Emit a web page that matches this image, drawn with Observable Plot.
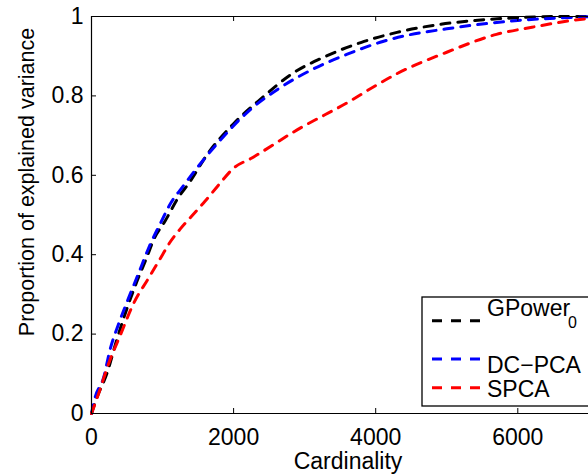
<!DOCTYPE html>
<html><head><meta charset="utf-8">
<script src="https://cdn.jsdelivr.net/npm/d3@7"></script>
<script src="https://cdn.jsdelivr.net/npm/@observablehq/plot@0.6"></script>
<style>
html,body{margin:0;padding:0;background:#fff;overflow:hidden;width:588px;height:475px}
#wrap{position:relative;width:588px;height:475px;overflow:hidden;font-family:"Liberation Sans",Arial,Helvetica,sans-serif}
#legend{position:absolute;left:421px;top:296px}
</style></head><body><div id="wrap"></div><script>
const seriesNames = ["GPower", "DC\u2212PCA", "SPCA"];
const seriesSub = ["0", "", ""];
const seriesColors = ["#000000", "#0000ff", "#ff0000"];

const gpowerX = [0, 75, 215, 355, 500, 640, 780, 870, 1040, 1225, 1366, 1650, 2000, 2400, 2800, 3300, 3800, 4300, 4900, 5400, 6000, 6500, 7000];
const gpowerY = [0, 0.04, 0.10, 0.185, 0.265, 0.333, 0.394, 0.436, 0.486, 0.545, 0.579, 0.658, 0.73, 0.795, 0.853, 0.90, 0.935, 0.96, 0.98, 0.99, 0.997, 1.0, 1.0];

const dcpcaX = [0, 50, 170, 260, 380, 520, 660, 800, 1000, 1100, 1300, 1500, 1800, 2200, 2650, 3100, 3600, 4100, 4400, 5000, 5500, 6000, 6800, 7100];
const dcpcaY = [0, 0.04, 0.09, 0.16, 0.225, 0.29, 0.352, 0.415, 0.49, 0.525, 0.575, 0.622, 0.686, 0.76, 0.82, 0.866, 0.905, 0.937, 0.951, 0.969, 0.981, 0.99, 0.998, 1.0];

const spcaX = [0, 100, 250, 400, 600, 800, 1000, 1100, 1250, 1450, 1600, 1800, 2000, 2250, 2900, 3650, 4000, 4300, 5000, 5700, 6200, 6950, 7100];
const spcaY = [0, 0.05, 0.13, 0.195, 0.28, 0.34, 0.40, 0.43, 0.465, 0.505, 0.535, 0.578, 0.618, 0.643, 0.715, 0.788, 0.826, 0.856, 0.91, 0.955, 0.973, 0.994, 0.996];

const xTicks = [0, 2000, 4000, 6000];
const yTicks = [0, 0.2, 0.4, 0.6, 0.8, 1];
const xLabel = "Cardinality";
const yLabel = "Proportion of explained variance";

const seriesXs = [gpowerX, dcpcaX, spcaX];
const seriesYs = [gpowerY, dcpcaY, spcaY];
const rows = [];
seriesNames.forEach((name, s) => {
  seriesXs[s].forEach((x, i) => rows.push({series: name, x, y: seriesYs[s][i]}));
});

const font = '"Liberation Sans", Arial, Helvetica, sans-serif';

const chart = Plot.plot({
  width: 588,
  height: 475,
  marginLeft: 91,
  marginRight: 0,
  marginTop: 16,
  marginBottom: 62,
  style: {fontFamily: font, fontSize: "23px", background: "#fff", color: "#000", overflow: "hidden"},
  x: {domain: [0, 6995]},
  y: {domain: [0, 1]},
  color: {domain: seriesNames, range: seriesColors},
  marks: [
    ...seriesNames.map(name => Plot.line(rows.filter(d => d.series === name), {
      x: "x", y: "y", stroke: "series", strokeWidth: 3, strokeDasharray: "9,8", curve: "monotone-x"
    })),
    Plot.ruleY([0, 1], {stroke: "#000", strokeWidth: 1.2}),
    Plot.ruleX([0], {stroke: "#000", strokeWidth: 1.2}),
    Plot.ruleX(xTicks, {x: d => d, y1: 0, y2: 0, insetTop: -5, stroke: "#000", strokeWidth: 1}),
    Plot.ruleX(xTicks, {x: d => d, y1: 1, y2: 1, insetBottom: -5, stroke: "#000", strokeWidth: 1}),
    Plot.ruleY(yTicks, {y: d => d, x1: 0, x2: 0, insetRight: -5, stroke: "#000", strokeWidth: 1}),
    Plot.axisX({ticks: xTicks, tickSize: 0, tickPadding: 15, tickFormat: d => String(d), label: null, fontSize: 23}),
    Plot.axisY({ticks: yTicks, tickSize: 0, tickPadding: 8, tickFormat: d => String(d), label: null, fontSize: 23}),
    Plot.text([xLabel], {text: d => d, frameAnchor: "bottom", dx: 8, dy: 48, lineAnchor: "middle", fontSize: 23, fill: "#000"}),
    Plot.text([yLabel], {text: d => d, frameAnchor: "left", rotate: -90, textAnchor: "middle", dx: -73, dy: -33, lineAnchor: "top", fontSize: 21.5, fill: "#000"})
  ]
});
const wrap = document.getElementById("wrap");
wrap.appendChild(chart);

// legend
const lineY = [24.7, 63, 91.7];
const textY = [19.7, 77.3, 100.7];
const lg = d3.select(wrap).append("svg").attr("id", "legend").attr("width", 300).attr("height", 112)
  .style("font-family", font);
lg.append("rect").attr("x", 1).attr("y", 1).attr("width", 400).attr("height", 109)
  .attr("fill", "#fff").attr("stroke", "#000").attr("stroke-width", 1.3);
seriesNames.forEach((name, i) => {
  lg.append("line").attr("x1", 11).attr("x2", 59).attr("y1", lineY[i]).attr("y2", lineY[i])
    .attr("stroke", seriesColors[i]).attr("stroke-width", 3).attr("stroke-dasharray", "10,9");
  lg.append("text").attr("x", 66).attr("y", textY[i]).attr("font-size", 23).attr("fill", "#000").text(name);
  if (seriesSub[i]) {
    lg.append("text").attr("x", 147).attr("y", textY[i] + 12.3).attr("font-size", 16).attr("fill", "#000").text(seriesSub[i]);
  }
});
</script></body></html>
